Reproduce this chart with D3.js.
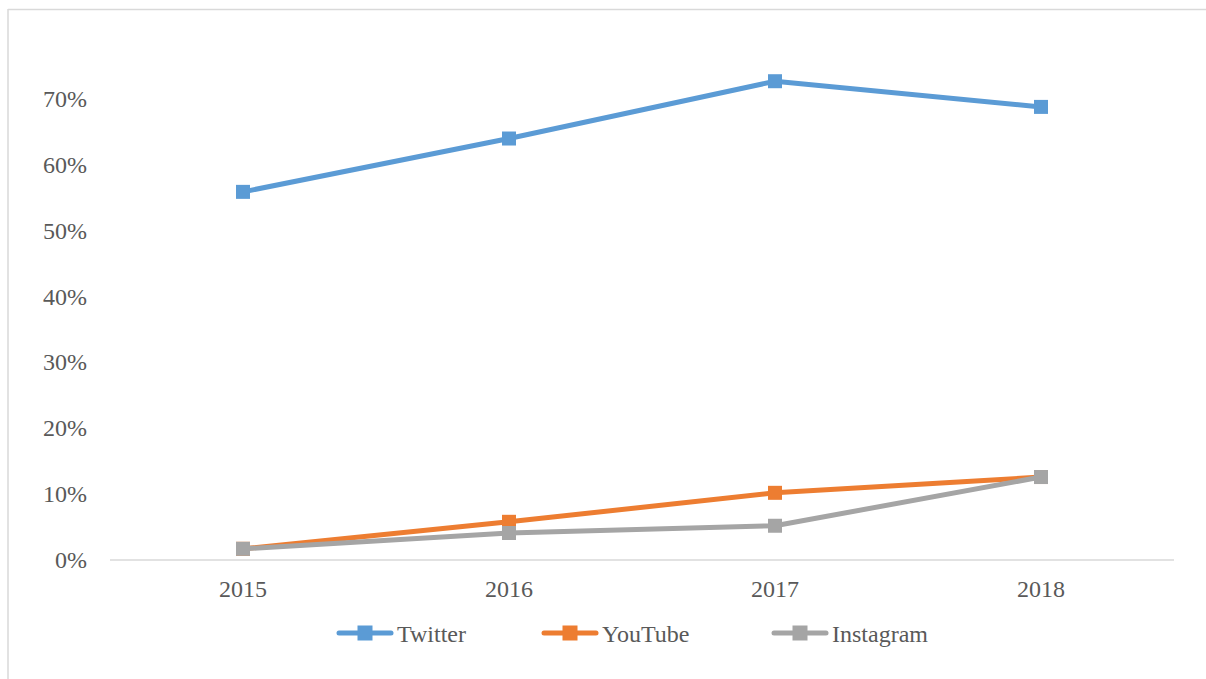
<!DOCTYPE html>
<html lang="en">
<head>
  <meta charset="UTF-8">
  <title>Platform share 2015-2018</title>
  <script src="https://cdn.jsdelivr.net/npm/d3@7"></script>
  <style type="text/css">
    body { margin:0; background:white; }
    svg { display:block; font-family: 'Liberation Serif', 'DejaVu Serif', serif; }
    text { fill:#595959; }
  </style>
</head>
<body>
<svg id="chart" width="1206" height="679"></svg>
<script>

  const years = ['2015', '2016', '2017', '2018'];
  const twitter   = [0.559, 0.640, 0.727, 0.688];
  const youtube   = [0.017, 0.058, 0.102, 0.126];
  const instagram = [0.017, 0.041, 0.052, 0.126];
  const yTicks = [0, 0.1, 0.2, 0.3, 0.4, 0.5, 0.6, 0.7];
  const seriesNames = ['Twitter', 'YouTube', 'Instagram'];
  const seriesColors = ['#5B9BD5', '#ED7D31', '#A5A5A5'];

  const series = [twitter, youtube, instagram].map((vals, i) => ({
    name: seriesNames[i], color: seriesColors[i], values: vals
  }));

  const fontFam = "'Liberation Serif', 'DejaVu Serif', serif";
  const svg = d3.select('#chart');
  const plotL = 110, plotR = 1174, plotT = 99, plotB = 560;

  // outer frame (only top and left edges are visible)
  svg.append('line').attr('x1', 8).attr('x2', 1206).attr('y1', 9.5).attr('y2', 9.5)
    .attr('stroke', '#d9d9d9').attr('stroke-width', 1.5);
  svg.append('line').attr('x1', 8).attr('x2', 8).attr('y1', 9).attr('y2', 679)
    .attr('stroke', '#d9d9d9').attr('stroke-width', 1.5);

  const x = d3.scaleBand().domain(years).range([plotL, plotR]);
  const y = d3.scaleLinear().domain([0, 0.7]).range([plotB, plotT]);

  // y labels
  svg.append('g').selectAll('text').data(yTicks).enter().append('text')
    .attr('x', 87).attr('y', d => y(d) + 8)
    .attr('text-anchor', 'end').attr('font-family', fontFam).style('font-size', '24px')
    .text(d => d3.format('.0%')(d));

  // x axis line
  svg.append('line').attr('x1', plotL).attr('x2', plotR).attr('y1', y(0)).attr('y2', y(0))
    .attr('stroke', '#d9d9d9').attr('stroke-width', 1.5);

  svg.append('g').selectAll('text').data(years).enter().append('text')
    .attr('x', d => x(d) + x.bandwidth()/2).attr('y', 597)
    .attr('text-anchor', 'middle').attr('font-family', fontFam).style('font-size', '24px')
    .text(d => d);

  const line = d3.line()
    .x((d, i) => x(years[i]) + x.bandwidth()/2)
    .y(d => y(d));

  const ms = 14;
  const groups = svg.append('g').selectAll('g').data(series).enter().append('g');
  groups.append('path')
    .attr('d', d => line(d.values))
    .attr('fill', 'none').attr('stroke', d => d.color)
    .attr('stroke-width', 5).attr('stroke-linejoin', 'round').attr('stroke-linecap', 'round');
  groups.each(function(s) {
    d3.select(this).selectAll('rect').data(s.values).enter().append('rect')
      .attr('x', (d, i) => x(years[i]) + x.bandwidth()/2 - ms/2)
      .attr('y', d => y(d) - ms/2)
      .attr('width', ms).attr('height', ms)
      .attr('fill', s.color);
  });

  // legend
  const legendX = [337, 542, 772];
  const legend = svg.append('g').selectAll('g').data(series).enter().append('g')
    .attr('transform', (d, i) => 'translate(' + legendX[i] + ',633)');
  legend.append('line').attr('x1', 2).attr('x2', 54).attr('y1', 0).attr('y2', 0)
    .attr('stroke', d => d.color).attr('stroke-width', 5).attr('stroke-linecap', 'round');
  legend.append('rect').attr('x', 28 - 7.5).attr('y', -7.5)
    .attr('width', 15).attr('height', 15).attr('fill', d => d.color);
  legend.append('text').attr('x', 60).attr('y', 9)
    .attr('font-family', fontFam).style('font-size', '24px').text(d => d.name);

</script>
</body>
</html>
